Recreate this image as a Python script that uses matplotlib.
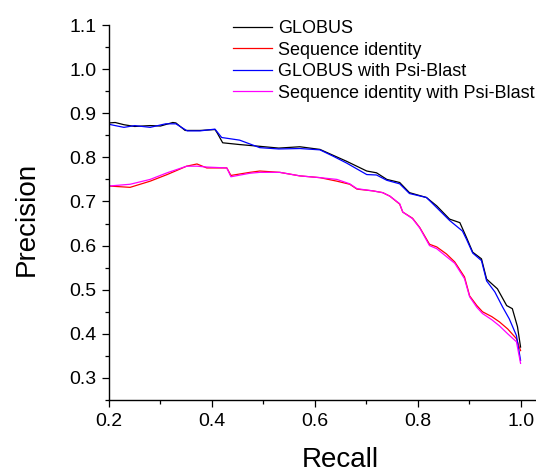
import matplotlib
matplotlib.use("Agg")
import matplotlib.pyplot as plt
from matplotlib.ticker import MultipleLocator

plt.rcParams['font.family'] = ['Liberation Sans', 'DejaVu Sans']

# Precision / recall curves
recall_globus = [0.200, 0.212, 0.229, 0.250, 0.280, 0.300, 0.324, 0.330, 0.348, 0.377,
                 0.406, 0.410, 0.421, 0.454, 0.493, 0.530, 0.571, 0.610, 0.635, 0.662,
                 0.701, 0.720, 0.740, 0.765, 0.784, 0.817, 0.837, 0.862, 0.882, 0.895,
                 0.907, 0.924, 0.934, 0.955, 0.973, 0.984, 0.994, 1.000]
prec_globus = [0.878, 0.879, 0.874, 0.870, 0.872, 0.871, 0.879, 0.878, 0.861, 0.861,
               0.863, 0.856, 0.833, 0.829, 0.825, 0.821, 0.824, 0.818, 0.805, 0.791,
               0.769, 0.765, 0.750, 0.743, 0.720, 0.709, 0.690, 0.660, 0.652, 0.618,
               0.585, 0.570, 0.524, 0.502, 0.464, 0.457, 0.416, 0.370]

recall_seqid = [0.200, 0.241, 0.280, 0.313, 0.351, 0.371, 0.390, 0.429, 0.437, 0.474,
                0.493, 0.532, 0.571, 0.610, 0.643, 0.668, 0.682, 0.713, 0.732, 0.746,
                0.765, 0.771, 0.790, 0.804, 0.823, 0.837, 0.856, 0.872, 0.891, 0.901,
                0.915, 0.926, 0.944, 0.959, 0.975, 0.992, 1.000]
prec_seqid = [0.735, 0.732, 0.746, 0.761, 0.780, 0.785, 0.776, 0.776, 0.759, 0.766,
              0.769, 0.766, 0.758, 0.754, 0.746, 0.739, 0.728, 0.724, 0.720, 0.712,
              0.694, 0.676, 0.662, 0.641, 0.603, 0.597, 0.581, 0.563, 0.529, 0.486,
              0.464, 0.450, 0.439, 0.427, 0.411, 0.389, 0.362]

recall_globus_psi = [0.200, 0.212, 0.229, 0.250, 0.280, 0.310, 0.330, 0.352, 0.377, 0.406,
                     0.419, 0.454, 0.493, 0.530, 0.571, 0.610, 0.635, 0.662, 0.701, 0.720,
                     0.740, 0.765, 0.784, 0.817, 0.837, 0.862, 0.887, 0.895, 0.907, 0.924,
                     0.934, 0.950, 0.965, 0.978, 0.992, 1.000]
prec_globus_psi = [0.875, 0.872, 0.868, 0.872, 0.868, 0.876, 0.876, 0.860, 0.860, 0.864,
                   0.845, 0.839, 0.822, 0.819, 0.820, 0.817, 0.803, 0.787, 0.761, 0.760,
                   0.748, 0.740, 0.718, 0.709, 0.686, 0.657, 0.633, 0.614, 0.583, 0.566,
                   0.520, 0.495, 0.461, 0.434, 0.396, 0.340]

recall_seqid_psi = recall_seqid
prec_seqid_psi = [0.735, 0.739, 0.750, 0.765, 0.780, 0.780, 0.778, 0.776, 0.756, 0.764,
                  0.766, 0.766, 0.758, 0.754, 0.750, 0.740, 0.729, 0.724, 0.720, 0.712,
                  0.695, 0.676, 0.661, 0.640, 0.600, 0.593, 0.575, 0.560, 0.525, 0.484,
                  0.460, 0.446, 0.432, 0.418, 0.400, 0.382, 0.333]

labels = ["GLOBUS", "Sequence identity", "GLOBUS with Psi-Blast",
          "Sequence identity with Psi-Blast"]
colors = ["black", "#ff0000", "#0000ff", "#ff00ff"]

fig = plt.figure(figsize=(5.36, 4.72), dpi=100)
ax = fig.add_axes([109 / 536, 72 / 472, 427 / 536, 375 / 472])

series = [(recall_globus, prec_globus), (recall_seqid, prec_seqid),
          (recall_globus_psi, prec_globus_psi), (recall_seqid_psi, prec_seqid_psi)]
for (r, p), lab, c in zip(series, labels, colors):
    ax.plot(r, p, color=c, lw=0.9, label=lab)

ax.set_xlim(0.2, 1.03)
ax.set_ylim(0.25, 1.1)
ax.xaxis.set_major_locator(MultipleLocator(0.2))
ax.xaxis.set_minor_locator(MultipleLocator(0.1))
ax.yaxis.set_major_locator(MultipleLocator(0.1))
ax.yaxis.set_minor_locator(MultipleLocator(0.05))
ax.xaxis.set_major_formatter(plt.FormatStrFormatter('%.1f'))
ax.yaxis.set_major_formatter(plt.FormatStrFormatter('%.1f'))

for side in ['top', 'right']:
    ax.spines[side].set_visible(False)
for side in ['left', 'bottom']:
    ax.spines[side].set_linewidth(1.0)

ax.tick_params(which='major', direction='out', length=5, width=0.9,
               labelsize=14, pad=4)
ax.tick_params(which='minor', direction='out', length=3, width=0.9)

ax.set_xlabel("Recall", fontsize=20)
ax.set_ylabel("Precision", fontsize=20)
ax.xaxis.set_label_coords(0.541, -0.125)
ax.yaxis.set_label_coords(-0.162, 0.483)

fig.legend(loc='upper left', bbox_to_anchor=(233 / 536, 1 - 20 / 472),
           frameon=False, fontsize=13, handlelength=2.15, handletextpad=0.33,
           labelspacing=0.25, borderpad=0, borderaxespad=0)

fig.savefig("out.png", dpi=100)
